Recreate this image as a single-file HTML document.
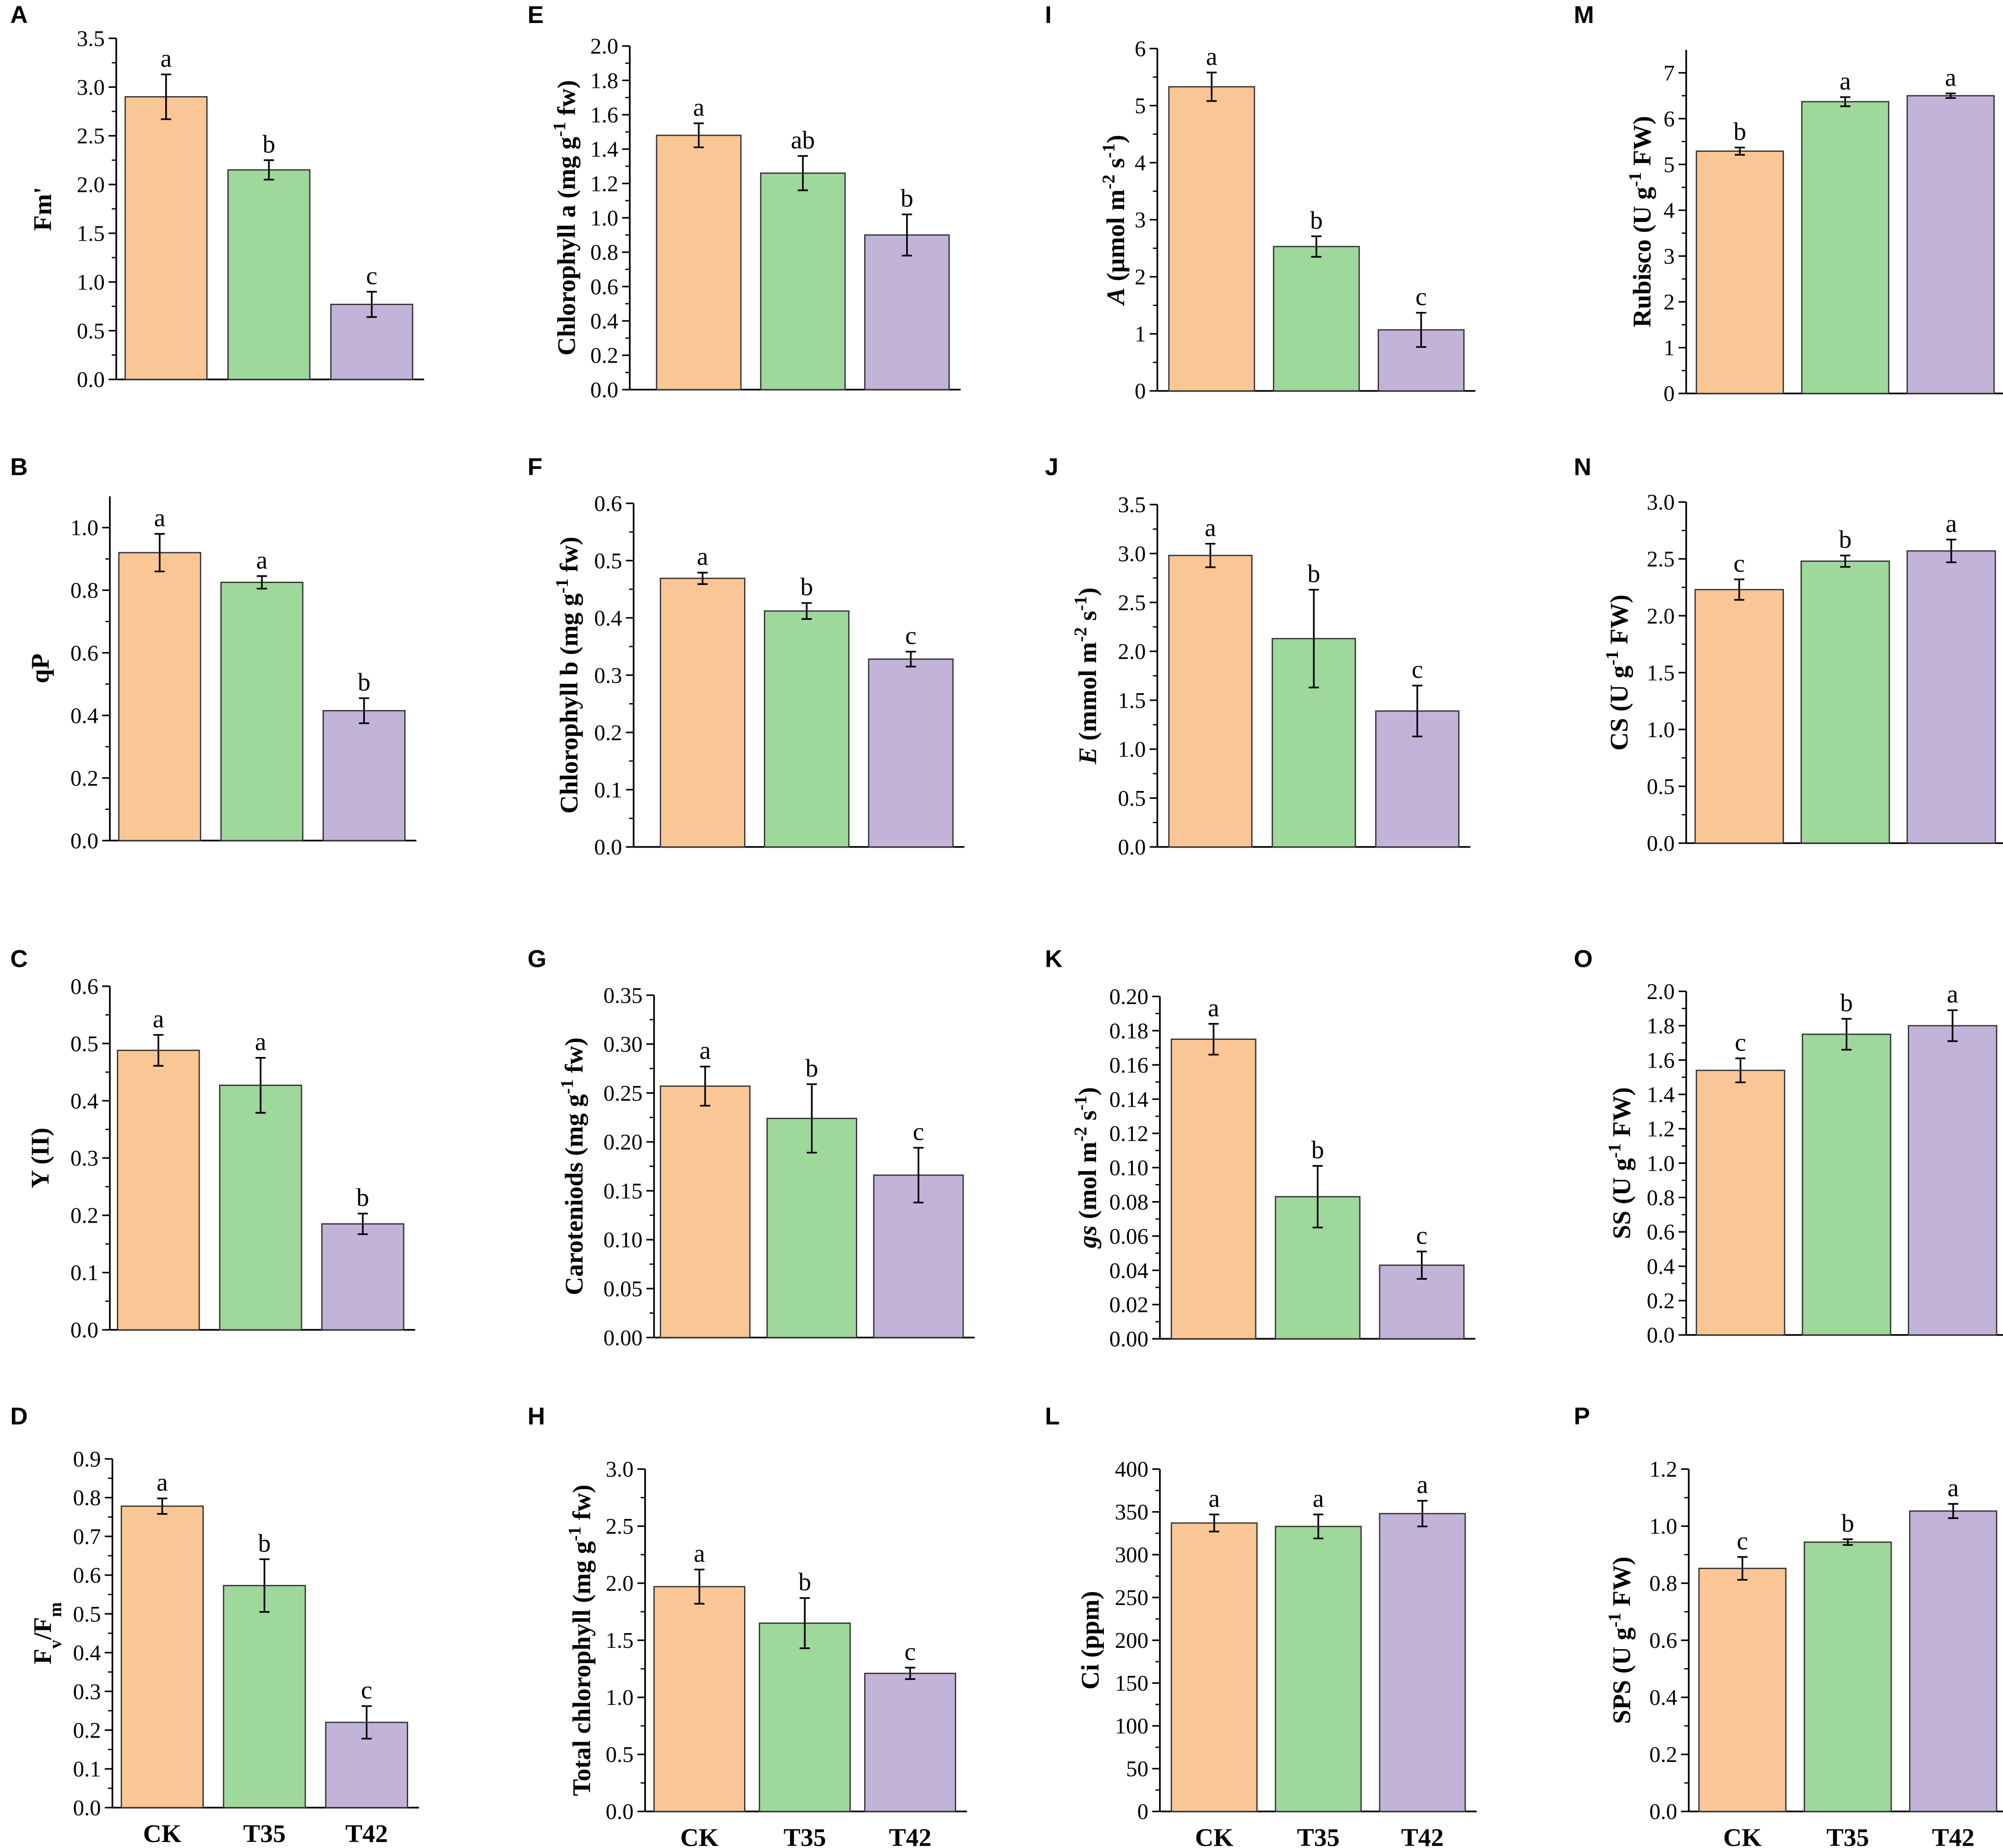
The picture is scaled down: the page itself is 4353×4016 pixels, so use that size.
<!DOCTYPE html>
<html><head><meta charset="utf-8"><style>html,body{margin:0;padding:0;background:#fff}svg{display:block}</style></head>
<body>
<svg id="fig" xmlns="http://www.w3.org/2000/svg" width="4353" height="4016" viewBox="0 0 1568 1446.6" font-family="Liberation Serif, serif"></svg>
<script>
const categories = ["CK","T35","T42"];
const colors = ["#FBC695","#9ED89B","#C2B3D9"];
const valsA=[2.9,2.15,0.77], errA=[0.23,0.1,0.13], letA=["a","b","c"];
const valsB=[0.92,0.825,0.415], errB=[0.06,0.02,0.04], letB=["a","a","b"];
const valsC=[0.488,0.427,0.185], errC=[0.027,0.048,0.018], letC=["a","a","b"];
const valsD=[0.778,0.573,0.22], errD=[0.02,0.068,0.042], letD=["a","b","c"];
const valsE=[1.48,1.26,0.9], errE=[0.07,0.1,0.12], letE=["a","ab","b"];
const valsF=[0.469,0.412,0.328], errF=[0.01,0.014,0.013], letF=["a","b","c"];
const valsG=[0.257,0.224,0.166], errG=[0.02,0.035,0.028], letG=["a","b","c"];
const valsH=[1.97,1.65,1.21], errH=[0.15,0.22,0.05], letH=["a","b","c"];
const valsI=[5.33,2.53,1.07], errI=[0.25,0.18,0.3], letI=["a","b","c"];
const valsJ=[2.98,2.13,1.39], errJ=[0.12,0.5,0.26], letJ=["a","b","c"];
const valsK=[0.175,0.083,0.043], errK=[0.009,0.018,0.008], letK=["a","b","c"];
const valsL=[337,333,348], errL=[10,14,15], letL=["a","a","a"];
const valsM=[5.29,6.37,6.5], errM=[0.08,0.1,0.05], letM=["b","a","a"];
const valsN=[2.23,2.48,2.57], errN=[0.09,0.05,0.1], letN=["c","b","a"];
const valsO=[1.54,1.75,1.8], errO=[0.07,0.09,0.09], letO=["c","b","a"];
const valsP=[0.852,0.944,1.053], errP=[0.04,0.01,0.025], letP=["c","b","a"];

const NS="http://www.w3.org/2000/svg";
const svg=document.getElementById('fig');
function mk(tag,attrs,parent){const e=document.createElementNS(NS,tag);for(const k in attrs)e.setAttribute(k,attrs[k]);(parent||svg).appendChild(e);return e;}

const panels=[
 {id:"A",lx:8,ly:18,ax:91,top:30,bot:297,max:3.5,step:0.5,dec:1,x0:98,bw:64,st:80.5,v:valsA,e:errA,l:letA,lab:[["Fm'","n"]],labx:40},
 {id:"B",lx:8,ly:372,ax:86,top:413,bot:658,max:1.0,step:0.2,dec:1,amax:1.1,x0:93,bw:64,st:80,v:valsB,e:errB,l:letB,lab:[["qP","n"]],labx:38},
 {id:"C",lx:8,ly:757,ax:86,top:772,bot:1041,max:0.6,step:0.1,dec:1,x0:92,bw:64,st:80,v:valsC,e:errC,l:letC,lab:[["Y (II)","n"]],labx:38},
 {id:"D",lx:8,ly:1115,ax:88,top:1142,bot:1415,max:0.9,step:0.1,dec:1,x0:95,bw:64,st:80,v:valsD,e:errD,l:letD,lab:[["F","n"],["v","sub"],["/F","n"],["m","sub"]],labx:40,xl:true},
 {id:"E",lx:413,ly:18,ax:493,top:36,bot:305,max:2.0,step:0.2,dec:1,x0:514,bw:66,st:81.5,v:valsE,e:errE,l:letE,lab:[["Chlorophyll a (mg g","n"],["-1","sup"],[" fw)","n"]],labx:450},
 {id:"F",lx:413,ly:372,ax:496,top:394,bot:663,max:0.6,step:0.1,dec:1,x0:517,bw:66,st:81.5,v:valsF,e:errF,l:letF,lab:[["Chlorophyll b (mg g","n"],["-1","sup"],[" fw)","n"]],labx:452},
 {id:"G",lx:413,ly:757,ax:512,top:779,bot:1047,max:0.35,step:0.05,dec:2,x0:517,bw:70,st:83.5,v:valsG,e:errG,l:letG,lab:[["Caroteniods (mg g","n"],["-1","sup"],[" fw)","n"]],labx:456},
 {id:"H",lx:413,ly:1115,ax:505,top:1150,bot:1418,max:3.0,step:0.5,dec:1,x0:512,bw:71,st:82.5,v:valsH,e:errH,l:letH,lab:[["Total chlorophyll (mg g","n"],["-1","sup"],[" fw)","n"]],labx:462,xl:true},
 {id:"I",lx:818,ly:18,ax:906,top:38,bot:306,max:6,step:1,dec:0,x0:915,bw:67,st:82,v:valsI,e:errI,l:letI,lab:[["A","i"],[" (μmol m","n"],["-2","sup"],[" s","n"],["-1","sup"],[")","n"]],labx:880},
 {id:"J",lx:818,ly:372,ax:906,top:395,bot:663,max:3.5,step:0.5,dec:1,x0:915,bw:65,st:81,v:valsJ,e:errJ,l:letJ,lab:[["E","i"],[" (mmol m","n"],["-2","sup"],[" s","n"],["-1","sup"],[")","n"]],labx:858},
 {id:"K",lx:818,ly:757,ax:908,top:780,bot:1048,max:0.20,step:0.02,dec:2,x0:917,bw:66,st:81.5,v:valsK,e:errK,l:letK,lab:[["gs","i"],[" (mol m","n"],["-2","sup"],[" s","n"],["-1","sup"],[")","n"]],labx:858},
 {id:"L",lx:818,ly:1115,ax:908,top:1150,bot:1418,max:400,step:50,dec:0,x0:917,bw:67,st:81.5,v:valsL,e:errL,l:letL,lab:[["Ci (ppm)","n"]],labx:860,xl:true},
 {id:"M",lx:1232,ly:18,ax:1320,top:57,bot:308,max:7,step:1,dec:0,amax:7.5,x0:1328,bw:68,st:82.5,v:valsM,e:errM,l:letM,lab:[["Rubisco (U g","n"],["-1","sup"],[" FW)","n"]],labx:1292},
 {id:"N",lx:1232,ly:372,ax:1320,top:393,bot:660,max:3.0,step:0.5,dec:1,x0:1327,bw:69,st:83,v:valsN,e:errN,l:letN,lab:[["CS (U g","n"],["-1","sup"],[" FW)","n"]],labx:1274},
 {id:"O",lx:1232,ly:757,ax:1320,top:776,bot:1045,max:2.0,step:0.2,dec:1,x0:1328,bw:69,st:83,v:valsO,e:errO,l:letO,lab:[["SS (U g","n"],["-1","sup"],[" FW)","n"]],labx:1276},
 {id:"P",lx:1232,ly:1115,ax:1322,top:1150,bot:1418,max:1.2,step:0.2,dec:1,x0:1330,bw:68,st:82.5,v:valsP,e:errP,l:letP,lab:[["SPS (U g","n"],["-1","sup"],[" FW)","n"]],labx:1276,xl:true}
];

panels.forEach(p=>{
  const g=mk('g',{});
  
  
  const y=v=>p.bot-(v/p.max)*(p.bot-p.top);
  const x=i=>p.x0+i*p.st;
  const pl=mk('text',{x:p.lx,y:p.ly,'font-family':'Liberation Sans, sans-serif','font-weight':'bold','font-size':19},g);
  pl.textContent=p.id;
  
  
  const atop=y(p.amax||p.max);
  const right=x(2)+p.bw+9;
  const ya=mk('line',{x1:p.ax,y1:atop,x2:p.ax,y2:p.bot,stroke:'#000','stroke-width':1.3},g);
  
  
  const xa=mk('line',{x1:p.ax,y1:p.bot,x2:right,y2:p.bot,stroke:'#000','stroke-width':1.3},g);
  
  
  const n=Math.round(p.max/p.step);
  for(let k=0;k<=n;k++){
    const v=k*p.step, yy=y(v);
    mk('line',{x1:p.ax-6,y1:yy,x2:p.ax,y2:yy,stroke:'#000','stroke-width':1.2},g);
    if(k<n){const ym=y(v+p.step/2);mk('line',{x1:p.ax-3.5,y1:ym,x2:p.ax,y2:ym,stroke:'#000','stroke-width':1},g);}
    const t=mk('text',{x:p.ax-9,y:yy+6,'text-anchor':'end','font-size':17.5},g);
    t.textContent=v.toFixed(p.dec);
    
    
  }
  const lab=mk('text',{transform:`translate(${p.labx},${(atop+p.bot)/2}) rotate(-90)`,'text-anchor':'middle','font-size':20,'font-weight':'bold'},g);
  
  
  p.lab.forEach(([s,st])=>{
    const ts=mk('tspan',{},lab);ts.textContent=s;
    if(st==='i')ts.setAttribute('font-style','italic');
    if(st==='sup'){ts.setAttribute('baseline-shift','super');ts.setAttribute('font-size',14);}
    if(st==='sub'){ts.setAttribute('baseline-shift','sub');ts.setAttribute('font-size',14);}
  });
  p.v.forEach((v,i)=>{
    const r=mk('rect',{x:x(i),y:y(v),width:p.bw,height:p.bot-y(v),fill:colors[i],stroke:'#333','stroke-width':1},g);
    
    
    const cx=x(i)+p.bw/2, y1=y(v+p.e[i]), y2=y(v-p.e[i]);
    const eb=mk('path',{d:`M${cx},${y1}V${y2}M${cx-4},${y1}H${cx+4}M${cx-4},${y2}H${cx+4}`,stroke:'#000','stroke-width':1.3,fill:'none'},g);
    
    
    const lt=mk('text',{x:cx,y:y1-6,'text-anchor':'middle','font-size':20},g);
    lt.textContent=p.l[i];
    
    
    if(p.xl){
      const xt=mk('text',{x:cx,y:p.bot+27,'text-anchor':'middle','font-size':20,'font-weight':'bold'},g);
      xt.textContent=categories[i];
      
      
    }
  });
});
</script>
</body></html>
